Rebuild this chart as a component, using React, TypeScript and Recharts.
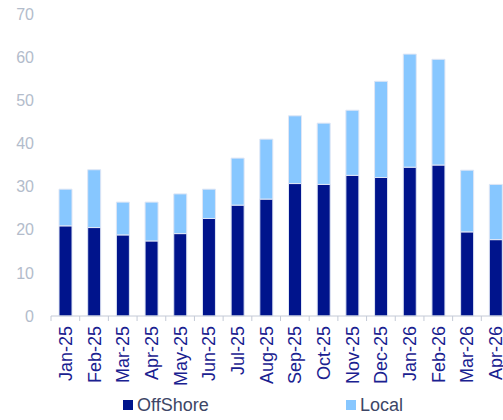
import React from 'react';
import { BarChart, Bar, XAxis, YAxis, Legend } from 'recharts';

const months = ['Jan-25','Feb-25','Mar-25','Apr-25','May-25','Jun-25','Jul-25','Aug-25','Sep-25','Oct-25','Nov-25','Dec-25','Jan-26','Feb-26','Mar-26','Apr-26'];
const offshore = [20.9, 20.5, 18.8, 17.4, 19.1, 22.6, 25.7, 27.1, 30.7, 30.5, 32.6, 32.1, 34.5, 35.0, 19.5, 17.7];
const local = [8.5, 13.4, 7.6, 9.0, 9.2, 6.8, 10.9, 13.9, 15.7, 14.2, 15.1, 22.3, 26.2, 24.5, 14.3, 12.8];
const yTicks = [0, 10, 20, 30, 40, 50, 60, 70];

const data = months.map((m, i) => ({ month: m, OffShore: offshore[i], Local: local[i] }));

const NAVY = '#00148c';
const LIGHT = '#87c7ff';
const FONT = '"Liberation Sans", Arial, sans-serif';

const XTick = (props: any) => {
  const { x, y, payload } = props;
  const off = payload && typeof payload.offset === 'number' ? payload.offset : 14.34;
  return (
    <g>
      <line x1={x - off} y1={y} x2={x - off} y2={y + 5} stroke="#c4cad6" strokeWidth={1} />
      <text
        x={0}
        y={0}
        transform={`translate(${x},${y + 10}) rotate(-90)`}
        textAnchor="end"
        dy="0.36em"
        fill="#1a2190"
        fontSize={18}
        fontFamily={FONT}
      >
        {payload.value}
      </text>
    </g>
  );
};

const renderLegend = () => (
  <div style={{ position: 'relative', width: 503, height: 24, fontFamily: FONT, fontSize: 18, color: '#3d4666' }}>
    <div style={{ position: 'absolute', left: 123, top: 6, width: 10, height: 10, background: NAVY }} />
    <div style={{ position: 'absolute', left: 137, top: 0, lineHeight: '22px' }}>OffShore</div>
    <div style={{ position: 'absolute', left: 346, top: 6, width: 10, height: 10, background: LIGHT }} />
    <div style={{ position: 'absolute', left: 360, top: 0, lineHeight: '22px' }}>Local</div>
  </div>
);

export default function App() {
  return (
    <div style={{ position: 'fixed', left: 0, top: 0, width: 503, height: 420, overflow: 'hidden', background: '#fff' }}>
      <BarChart
        width={530}
        height={420}
        data={data}
        margin={{ top: 14, right: 20, bottom: 0, left: 0 }}
        barSize={13}
      >
        <YAxis
          width={51}
          domain={[0, 70]}
          ticks={yTicks}
          axisLine={false}
          tickLine={false}
          tickSize={0}
          tickMargin={17}
          interval={0}
          tick={{ fill: '#b3bccb', fontSize: 16, fontFamily: FONT }}
        />
        <XAxis
          dataKey="month"
          height={104}
          interval={0}
          axisLine={{ stroke: '#c4cad6' }}
          tickLine={false}
          tickSize={0}
          tickMargin={0}
          tick={<XTick />}
        />
        <Legend
          layout="horizontal"
          verticalAlign="middle"
          align="center"
          content={renderLegend}
          wrapperStyle={{ left: 0, top: 394, width: 503, height: 24 }}
        />
        <Bar dataKey="OffShore" stackId="a" fill={NAVY} stroke="#dfe6f5" strokeWidth={1} isAnimationActive={false} />
        <Bar dataKey="Local" stackId="a" fill={LIGHT} stroke="#dfe6f5" strokeWidth={1} isAnimationActive={false} />
      </BarChart>
    </div>
  );
}
